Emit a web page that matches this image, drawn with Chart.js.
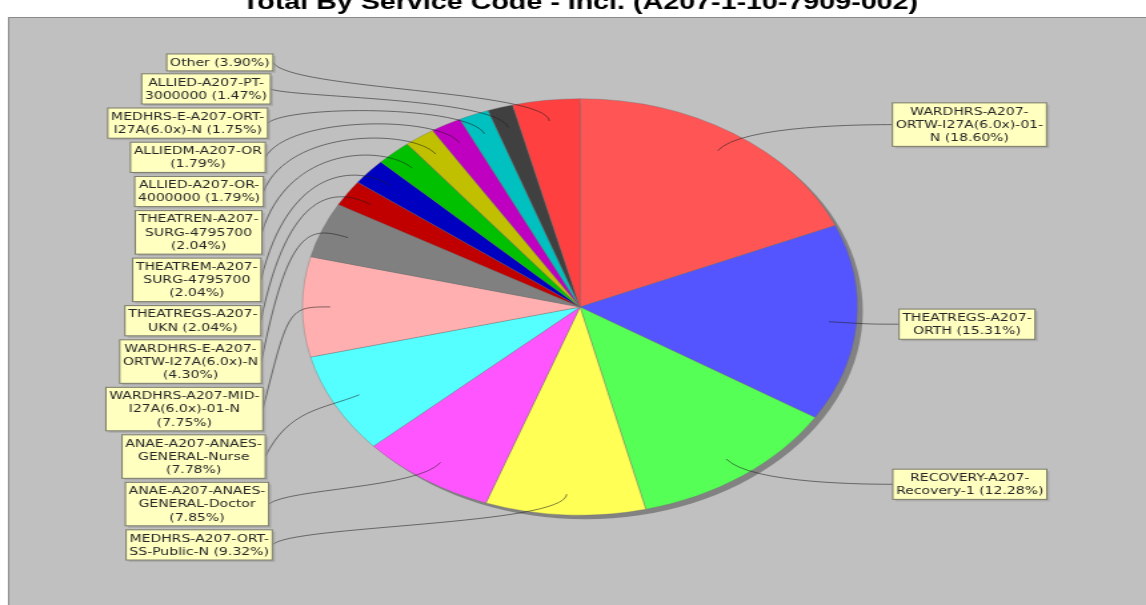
<!DOCTYPE html>
<html>
<head>
<meta charset="utf-8">
<title>Total By Service Code</title>
<script src="https://cdn.jsdelivr.net/npm/chart.js@4.4.1/dist/chart.umd.min.js"></script>
<style>
  html, body { margin: 0; padding: 0; background: #fff; overflow: hidden; }
  /* the original picture is a 860px wide chart stretched to 1146px */
  #wrap { width: 860px; height: 605px; transform: scaleX(1.3326); transform-origin: 0 0; }
</style>
</head>
<body>
<div id="wrap"><canvas id="pieChart" width="860" height="605"></canvas></div>
<script>
let chartTitle = 'Total By Service Code - Incl. (A207-1-10-7909-002)';

let categories = [
  'WARDHRS-A207-ORTW-I27A(6.0x)-01-N', 'THEATREGS-A207-ORTH', 'RECOVERY-A207-Recovery-1',
  'MEDHRS-A207-ORT-SS-Public-N', 'ANAE-A207-ANAES-GENERAL-Doctor', 'ANAE-A207-ANAES-GENERAL-Nurse',
  'WARDHRS-A207-MID-I27A(6.0x)-01-N', 'WARDHRS-E-A207-ORTW-I27A(6.0x)-N', 'THEATREGS-A207-UKN',
  'THEATREM-A207-SURG-4795700', 'THEATREN-A207-SURG-4795700', 'ALLIED-A207-OR-4000000',
  'ALLIEDM-A207-OR', 'MEDHRS-E-A207-ORT-I27A(6.0x)-N', 'ALLIED-A207-PT-3000000', 'Other'
];

let percentages = [18.60, 15.31, 12.28, 9.32, 7.85, 7.78, 7.75, 4.30, 2.04, 2.04, 2.04, 1.79, 1.79, 1.75, 1.47, 3.90];

// label text as it is wrapped in the picture
let labelLines = [
  ['WARDHRS-A207-', 'ORTW-I27A(6.0x)-01-', 'N (18.60%)'],
  ['THEATREGS-A207-', 'ORTH (15.31%)'],
  ['RECOVERY-A207-', 'Recovery-1 (12.28%)'],
  ['MEDHRS-A207-ORT-', 'SS-Public-N (9.32%)'],
  ['ANAE-A207-ANAES-', 'GENERAL-Doctor', '(7.85%)'],
  ['ANAE-A207-ANAES-', 'GENERAL-Nurse', '(7.78%)'],
  ['WARDHRS-A207-MID-', 'I27A(6.0x)-01-N', '(7.75%)'],
  ['WARDHRS-E-A207-', 'ORTW-I27A(6.0x)-N', '(4.30%)'],
  ['THEATREGS-A207-', 'UKN (2.04%)'],
  ['THEATREM-A207-', 'SURG-4795700', '(2.04%)'],
  ['THEATREN-A207-', 'SURG-4795700', '(2.04%)'],
  ['ALLIED-A207-OR-', '4000000 (1.79%)'],
  ['ALLIEDM-A207-OR', '(1.79%)'],
  ['MEDHRS-E-A207-ORT-', 'I27A(6.0x)-N (1.75%)'],
  ['ALLIED-A207-PT-', '3000000 (1.47%)'],
  ['Other (3.90%)']
];

let sliceColors = [
  '#ff5555', '#5555ff', '#55ff55', '#ffff55', '#ff55ff', '#55ffff', '#ffafaf', '#808080',
  '#c00000', '#0000c0', '#00c000', '#c0c000', '#c000c0', '#00c0c0', '#404040', '#ff4040'
];

const LINE_H = 13.3;
const PAD_X = 2.5;
const PAD_Y = 1.8;
const GAP = 4;

function pieGeometry(chart) {
  let arc = chart.getDatasetMeta(0).data[0];
  return {cx: arc.x, cy: arc.y, r: arc.outerRadius};
}

function distribute(list, minY, maxY) {
  list.sort((a, b) => a.y - b.y);
  let overlap = () => list.some((rec, j) => j > 0 && rec.y - rec.h / 2 <= list[j - 1].y + list[j - 1].h / 2);
  if (overlap()) {
    for (let j = 1; j < list.length; j++) {
      let a = list[j - 1], b = list[j];
      if (b.y - b.h / 2 < a.y + a.h / 2 + GAP) b.y = Math.min(maxY - b.h / 2, a.y + a.h / 2 + GAP + b.h / 2);
    }
  }
  if (overlap()) {
    for (let j = list.length - 1; j > 0; j--) {
      let a = list[j], b = list[j - 1];
      if (b.y + b.h / 2 > a.y - a.h / 2 - GAP) b.y = Math.max(minY + b.h / 2, a.y - a.h / 2 - GAP - b.h / 2);
    }
  }
  if (overlap()) {
    let totalH = list.reduce((s, rec) => s + rec.h, 0);
    let g = (maxY - minY - totalH) / (list.length - 1);
    let y = minY;
    list.forEach(rec => { rec.y = y + rec.h / 2; y += rec.h + g; });
  }
}

const plotBackground = {
  id: 'plotBackground',
  beforeDraw(chart) {
    let c = chart.ctx;
    let {cx, cy, r} = pieGeometry(chart);
    c.save();
    c.fillStyle = '#ffffff';
    c.fillRect(0, 0, chart.width, chart.height);
    c.fillStyle = '#c0c0c0';
    c.fillRect(6.5, 17.5, chart.width, chart.height);
    c.strokeStyle = '#8a8a8a';
    c.lineWidth = 1;
    c.strokeRect(6.5, 17.5, chart.width, chart.height);

    // title, cut off at the top of the picture
    c.fillStyle = '#000';
    c.font = 'bold 21.5px "Liberation Sans"';
    c.textAlign = 'center';
    c.textBaseline = 'alphabetic';
    c.fillText(chartTitle, cx, 9);

    // pie shadow
    c.fillStyle = '#828282';
    c.beginPath();
    c.arc(cx + 4, cy + 4, r, 0, Math.PI * 2);
    c.fill();
    c.restore();
  }
};

const pieLabels = {
  id: 'pieLabels',
  afterDatasetsDraw(chart) {
    let c = chart.ctx;
    let {cx, cy, r} = pieGeometry(chart);
    let arcs = chart.getDatasetMeta(0).data;
    c.save();
    c.font = '10.5px "DejaVu Sans"';

    let left = [], right = [];
    arcs.forEach((arc, i) => {
      let mid = (arc.startAngle + arc.endAngle) / 2;
      let ux = Math.cos(mid), uy = Math.sin(mid);
      let lines = labelLines[i];
      let rec = {
        lines: lines,
        w: Math.max(...lines.map(t => c.measureText(t).width)) + PAD_X * 2,
        h: lines.length * LINE_H + PAD_Y * 2,
        linkX: cx + ux * r * 0.9, linkY: cy + uy * r * 0.9,
        elbowX: cx + ux * r * 1.05, elbowY: cy + uy * r * 1.05
      };
      rec.y = rec.elbowY;
      (ux >= 0 ? right : left).push(rec);
    });

    let minY = cy - r * 1.215, maxY = cy + r * 1.215;
    distribute(left, minY, maxY);
    distribute(right, minY, maxY);

    let labelOffset = y => 1.15 * r * Math.sqrt(Math.max(0, 1 - Math.pow((y - cy) / (4.3 * r), 2)));

    let drawRecord = (rec, side) => {
      let anchorX = cx + side * r * 1.05;
      let targetX = cx + side * labelOffset(rec.y);
      c.strokeStyle = 'rgba(30,30,30,0.8)';
      c.lineWidth = 0.7;
      c.beginPath();
      c.moveTo(targetX, rec.y);
      c.bezierCurveTo(anchorX, rec.elbowY, rec.elbowX, rec.elbowY, rec.linkX, rec.linkY);
      c.stroke();

      let x = side > 0 ? targetX : targetX - rec.w;
      let top = rec.y - rec.h / 2;
      c.fillStyle = 'rgba(151,151,151,0.5)';
      c.fillRect(x + 2, top + 2, rec.w, rec.h);
      c.fillStyle = '#ffffc0';
      c.fillRect(x, top, rec.w, rec.h);
      c.strokeStyle = '#7a7a6a';
      c.lineWidth = 1;
      c.strokeRect(x, top, rec.w, rec.h);

      c.fillStyle = '#262626';
      c.textAlign = 'center';
      c.textBaseline = 'middle';
      rec.lines.forEach((t, j) => c.fillText(t, x + rec.w / 2, top + PAD_Y + (j + 0.5) * LINE_H + 0.5));
    };
    left.forEach(rec => drawRecord(rec, -1));
    right.forEach(rec => drawRecord(rec, 1));
    c.restore();
  }
};

let chart = new Chart(document.getElementById('pieChart'), {
  type: 'pie',
  data: {
    labels: categories,
    datasets: [{
      data: percentages,
      backgroundColor: sliceColors,
      borderColor: 'rgba(110,110,110,0.7)',
      borderWidth: 0.5,
      hoverOffset: 0
    }]
  },
  options: {
    responsive: false,
    animation: false,
    layout: {
      padding: {top: 98.5, bottom: 89.5, left: 226.7, right: 216.3}
    },
    plugins: {
      legend: {display: false},
      tooltip: {enabled: false},
      title: {display: false}
    }
  },
  plugins: [plotBackground, pieLabels]
});
</script>
</body>
</html>
